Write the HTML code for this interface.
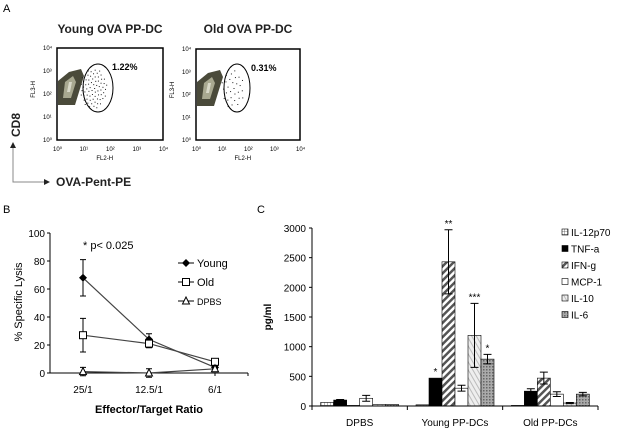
<!DOCTYPE html>
<html><head><meta charset="utf-8"><style>
body{margin:0;background:#fff;}
svg{display:block;font-family:"Liberation Sans",Arial,sans-serif;}
</style></head><body>
<svg id="fig" width="627" height="429" viewBox="0 0 627 429">
<defs>
<pattern id="pGrid" width="3" height="3" patternUnits="userSpaceOnUse"><rect width="3" height="3" fill="#fff"/><path d="M0 0H3M0 0V3" stroke="#555" stroke-width="0.8"/></pattern>
<pattern id="pDiag" width="5" height="5" patternUnits="userSpaceOnUse" patternTransform="rotate(45)"><rect width="5" height="5" fill="#fff"/><rect width="2.5" height="5" fill="#555"/></pattern>
<pattern id="pLight" width="4" height="4" patternUnits="userSpaceOnUse" patternTransform="rotate(-30)"><rect width="4" height="4" fill="#eee"/><rect width="1" height="4" fill="#bbb"/></pattern>
<pattern id="pDot" width="3" height="3" patternUnits="userSpaceOnUse"><rect width="3" height="3" fill="#aaa"/><rect width="1.5" height="1.5" fill="#666"/></pattern>
</defs>

<!-- Panel A -->
<text x="3" y="12" font-size="11">A</text>
<text x="110" y="33" font-size="12" font-weight="bold" text-anchor="middle" fill="#222">Young OVA PP-DC</text>
<text x="248" y="33" font-size="12" font-weight="bold" text-anchor="middle" fill="#222">Old OVA PP-DC</text>
<g id="flowPlots"></g>
<g>
<path d="M13 147V182H45" fill="none" stroke="#888" stroke-width="1"/>
<path d="M10 148L13 142L16 148Z M44 179L50 182L44 185Z" fill="#222"/>
</g>
<text x="20" y="125" font-size="12" font-weight="bold" transform="rotate(-90 20 125)" text-anchor="middle" fill="#222">CD8</text>
<text x="56" y="186" font-size="12" font-weight="bold" fill="#222">OVA-Pent-PE</text>

<!-- Panel B -->
<text x="3" y="213" font-size="11">B</text>
<g id="chartB"></g>

<!-- Panel C -->
<text x="257" y="213" font-size="11">C</text>
<g id="chartC"></g>
</svg>
<script>
var NS="http://www.w3.org/2000/svg";
function mk(p,t,a){var e=document.createElementNS(NS,t);for(var k in a)e.setAttribute(k,a[k]);p.appendChild(e);return e;}

// ---------- Panel A flow plots ----------
var flowTitles=["young","old"];
var flowPercents=["1.22%","0.31%"];
var flowAxisTicks=["0","1","2","3","4"];
var fp=document.getElementById('flowPlots');
var boxes=[{x:57,y:48,w:106,h:92,ex:98,ey:88,rx:15,ry:24},{x:196,y:49,w:104,h:91,ex:237,ey:88,rx:13,ry:24}];
boxes.forEach(function(b,i){
  var g=mk(fp,'g',{});
  
  
  mk(g,'rect',{x:b.x,y:b.y,width:b.w,height:b.h,fill:'#fff',stroke:'#000','stroke-width':1.5});
  // density blob
  var bx=b.x, by=b.y;
  mk(g,'path',{d:'M'+(bx+1)+' '+(by+57)+'L'+(bx+1)+' '+(by+33)+'L'+(bx+12)+' '+(by+24)+'L'+(bx+24)+' '+(by+21)+'L'+(bx+27)+' '+(by+28)+'L'+(bx+22)+' '+(by+44)+'L'+(bx+18)+' '+(by+57)+'Z',fill:'#4a4a3a'});
  mk(g,'path',{d:'M'+(bx+6)+' '+(by+50)+'L'+(bx+8)+' '+(by+34)+'L'+(bx+16)+' '+(by+28)+'L'+(bx+19)+' '+(by+34)+'L'+(bx+14)+' '+(by+50)+'Z',fill:'#a8a890'});
  mk(g,'path',{d:'M'+(bx+10)+' '+(by+44)+'L'+(bx+12)+' '+(by+34)+'L'+(bx+15)+' '+(by+34)+'L'+(bx+13)+' '+(by+44)+'Z',fill:'#d8d8c8'});
  // scattered dots
  var n=i==0?70:30;
  for(var k=0;k<n;k++){var a=(k*2.39996)%(2*Math.PI);var r=Math.sqrt((k+0.5)/n);
    mk(g,'rect',{x:b.ex+Math.cos(a)*r*b.rx*0.9-5,y:b.ey+Math.sin(a)*r*b.ry*0.85,width:1,height:1,fill:'#222'});}
  mk(g,'ellipse',{cx:b.ex,cy:b.ey,rx:b.rx,ry:b.ry,fill:'none',stroke:'#000','stroke-width':1});
  var t=mk(g,'text',{x:b.ex+14,y:b.y+22,'font-size':9,'font-weight':'bold'});t.textContent=flowPercents[i];
  
  
  flowAxisTicks.forEach(function(s,j){
    var tx=mk(g,'text',{x:b.x+j*b.w/4-4,y:b.y+b.h+11,'font-size':6});tx.textContent='10'+String.fromCharCode([8304,185,178,179,8308][j]);
    var ty=mk(g,'text',{x:b.x-14,y:b.y+b.h-j*b.h/4+2,'font-size':6});ty.textContent='10'+String.fromCharCode([8304,185,178,179,8308][j]);
  });
  var xl=mk(g,'text',{x:b.x+b.w*0.45,y:b.y+b.h+20,'font-size':6,'text-anchor':'middle'});xl.textContent='FL2-H';
  var yl=mk(g,'text',{x:b.x-22,y:b.y+b.h*0.45,'font-size':6,'text-anchor':'middle',transform:'rotate(-90 '+(b.x-22)+' '+(b.y+b.h*0.45)+')'});yl.textContent='FL3-H';
});

// ---------- Panel B ----------
var bCategories=["25/1","12.5/1","6/1"];
var bYoung=[68,24,4];
var bYoungErr=[13,4,1];
var bOld=[27,21,8];
var bOldErr=[12,3,1];
var bDPBS=[1,0,3];
var bDPBSErr=[3,3,2];
var bTicks=[0,20,40,60,80,100];
(function(){
  var g=document.getElementById('chartB');
  var x0=50,x1=248,y0=373,y1=233;
  function ys(v){return y0-(v/100)*(y0-y1);}
  function xs(i){return 83+i*66;}
  var ax=mk(g,'g',{});
  
  
  mk(ax,'line',{x1:x0,y1:y1,x2:x0,y2:y0,stroke:'#000'});
  bTicks.forEach(function(t){mk(ax,'line',{x1:x0-3,x2:x0,y1:ys(t),y2:ys(t),stroke:'#000'});
    var tx=mk(ax,'text',{x:x0-5,y:ys(t)+4,'font-size':10,'text-anchor':'end'});tx.textContent=t;});
  var xa=mk(g,'g',{});
  
  
  mk(xa,'line',{x1:x0,y1:y0,x2:x1,y2:y0,stroke:'#000'});
  bCategories.forEach(function(c,i){mk(xa,'line',{x1:xs(i),x2:xs(i),y1:y0,y2:y0+3,stroke:'#000'});
    var tx=mk(xa,'text',{x:xs(i),y:y0+20,'font-size':10,'text-anchor':'middle'});tx.textContent=c;});
  mk(xa,'line',{x1:x1,x2:x1,y1:y0,y2:y0+3,stroke:'#000'});
  var xt=mk(g,'text',{x:149,y:413,'font-size':11,'font-weight':'bold','text-anchor':'middle'});xt.textContent='Effector/Target Ratio';
  
  
  var yt=mk(g,'text',{x:22,y:302,'font-size':11,'text-anchor':'middle',transform:'rotate(-90 22 302)'});yt.textContent='% Specific Lysis';
  
  
  var pv=mk(g,'text',{x:83,y:249,'font-size':11});pv.textContent='* p< 0.025';
  
  
  var series=[{n:'young',v:bYoung,e:bYoungErr,m:'dot'},{n:'old',v:bOld,e:bOldErr,m:'sq'},{n:'dpbs',v:bDPBS,e:bDPBSErr,m:'tri'}];
  function marker(p,m,x,y){
    if(m=='dot')mk(p,'path',{d:'M'+x+' '+(y-4)+'L'+(x+4)+' '+y+'L'+x+' '+(y+4)+'L'+(x-4)+' '+y+'Z',fill:'#000'});
    else if(m=='sq')mk(p,'rect',{x:x-3.5,y:y-3.5,width:7,height:7,fill:'#fff',stroke:'#000'});
    else mk(p,'path',{d:'M'+x+' '+(y-4)+'L'+(x+3.5)+' '+(y+3)+'L'+(x-3.5)+' '+(y+3)+'Z',fill:'#fff',stroke:'#000'});
  }
  series.forEach(function(s){
    var sg=mk(g,'g',{});
    
    
    var d='';s.v.forEach(function(v,i){d+=(i?'L':'M')+xs(i)+' '+ys(v);});
    mk(sg,'path',{d:d,fill:'none',stroke:'#444','stroke-width':1.2});
    s.v.forEach(function(v,i){
      var x=xs(i);mk(sg,'path',{d:'M'+x+' '+ys(v-s.e[i])+'V'+ys(v+s.e[i])+'M'+(x-3)+' '+ys(v-s.e[i])+'h6M'+(x-3)+' '+ys(v+s.e[i])+'h6',stroke:'#000',fill:'none'});
      marker(sg,s.m,x,ys(v));
    });
  });
  var labels=['Young','Old','DPBS'];var lm=['dot','sq','tri'];var ly=[263,282,301];
  labels.forEach(function(l,i){
    var lg=mk(g,'g',{});
    
    
    mk(lg,'line',{x1:178,x2:194,y1:ly[i],y2:ly[i],stroke:'#000'});
    marker(lg,lm[i],186,ly[i]);
    var t=mk(lg,'text',{x:197,y:ly[i]+4,'font-size':i==2?9:11});t.textContent=l;
  });
})();

// ---------- Panel C ----------
var cGroups=["DPBS","Young  PP-DCs","Old  PP-DCs"];
var cSeries=["IL-12p70","TNF-a","IFN-g","MCP-1","IL-10","IL-6"];
var cDPBS=[60,100,10,130,25,25];
var cYoung=[20,470,2430,300,1190,790];
var cOld=[10,250,470,200,50,200];
var cDPBSErr=[0,10,0,50,0,0];
var cYoungErr=[0,0,540,50,540,80];
var cOldErr=[0,40,100,40,10,30];
var cTicks=[0,500,1000,1500,2000,2500,3000];
var cStars=[["","","","","",""],["","*","**","","***","*"],["","","","","",""]];
(function(){
  var g=document.getElementById('chartC');
  var x0=312,x1=598,y0=406,y1=228;
  function ys(v){return y0-(v/3000)*(y0-y1);}
  var gw=(x1-x0)/3,bw=13;
  function xs(gi,si){return x0+gi*gw+(gw-6*bw)/2+si*bw;}
  var fills=['url(#pGrid)','#000','url(#pDiag)','#fff','url(#pLight)','url(#pDot)'];
  var ax=mk(g,'g',{});
  
  
  mk(ax,'line',{x1:x0,y1:y1,x2:x0,y2:y0,stroke:'#000'});
  cTicks.forEach(function(t){mk(ax,'line',{x1:x0-3,x2:x0,y1:ys(t),y2:ys(t),stroke:'#000'});
    var tx=mk(ax,'text',{x:x0-6,y:ys(t)+4,'font-size':10,'text-anchor':'end'});tx.textContent=t;});
  var yt=mk(g,'text',{x:271,y:317,'font-size':10,'font-weight':'bold','text-anchor':'middle',transform:'rotate(-90 271 317)'});yt.textContent='pg/ml';
  
  
  var data=[cDPBS,cYoung,cOld],errs=[cDPBSErr,cYoungErr,cOldErr];
  data.forEach(function(arr,gi){
    arr.forEach(function(v,si){
      var x=xs(gi,si),y=ys(v);
      var r=mk(g,'rect',{x:x,y:y,width:bw,height:y0-y,fill:fills[si],stroke:'#000','stroke-width':0.6});
      
      
      var e=errs[gi][si];
      if(e>0){var cx=x+bw/2;mk(g,'path',{d:'M'+cx+' '+ys(v-e)+'V'+ys(v+e)+'M'+(cx-4)+' '+ys(v+e)+'h8M'+(cx-4)+' '+ys(v-e)+'h8',stroke:'#000',fill:'none'});}
      if(cStars[gi][si]){var st=mk(g,'text',{x:x+bw/2,y:ys(v+e)-3,'font-size':10,'text-anchor':'middle'});st.textContent=cStars[gi][si];}
    });
  });
  var xa=mk(g,'g',{});
  
  
  mk(xa,'line',{x1:x0,y1:y0,x2:x1,y2:y0,stroke:'#000'});
  for(var i=0;i<=3;i++)mk(xa,'line',{x1:x0+i*gw,x2:x0+i*gw,y1:y0,y2:y0+4,stroke:'#000'});
  cGroups.forEach(function(c,i){var t=mk(xa,'text',{x:x0+gw*(i+0.5),y:y0+20,'font-size':10,'text-anchor':'middle','xml:space':'preserve'});t.textContent=c;});
  cSeries.forEach(function(s,i){
    var lg=mk(g,'g',{});
    
    
    var y=229+i*16.5;
    mk(lg,'rect',{x:562,y:y,width:6,height:6,fill:fills[i],stroke:'#000','stroke-width':0.6});
    var t=mk(lg,'text',{x:571,y:y+7,'font-size':10});t.textContent=s;
  });
})();
</script>
</body></html>
